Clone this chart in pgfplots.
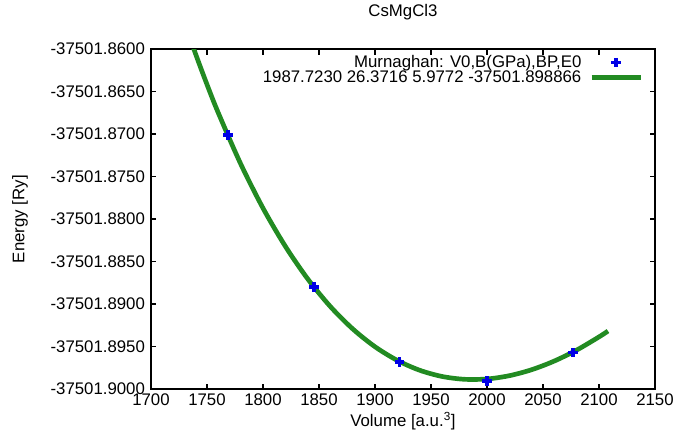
\documentclass[border=0pt]{standalone}
\usepackage{fontspec}
\setmainfont{Liberation Sans}
\usepackage{pgfplots}
\pgfplotsset{compat=1.18}
\definecolor{fitgreen}{RGB}{34,139,34}
\definecolor{ptblue}{RGB}{0,0,230}
% energies are stored as E + 37501.9 (Ry), pgfplots' float cannot hold 9 digits
\begin{document}
\begin{tikzpicture}
\begin{axis}[
    scale only axis,
    width=378pt, height=255pt,
    xmin=1700, xmax=2150,
    ymin=0, ymax=0.04,
    scaled y ticks=false,
    xtick={1700,1750,1800,1850,1900,1950,2000,2050,2100,2150},
    ytick={0,0.005,0.01,0.015,0.02,0.025,0.03,0.035,0.04},
    yticklabels={-37501.9000,-37501.8950,-37501.8900,-37501.8850,-37501.8800,-37501.8750,-37501.8700,-37501.8650,-37501.8600},
    /pgf/number format/assume math mode=true,
    /pgf/number format/1000 sep={},
    tick align=inside,
    major tick length=4pt,
    axis line style={line width=1.2pt},
    every tick/.style={black, line width=1.2pt},
    font=\fontsize{12.6}{14}\selectfont,
    yticklabel style={xshift=-1pt},
    title={CsMgCl3},
    title style={at={(axis description cs:0.5,1.085)}, anchor=center},
    xlabel={Volume [a.u.\textsuperscript{3}]},
    xlabel style={at={(axis description cs:0.5,-0.094)}, anchor=center},
    ylabel={Energy [Ry]},
    ylabel style={at={(axis description cs:-0.26,0.5)}, anchor=center},
    legend style={draw=none, fill=none, at={(axis description cs:0.976,0.99)},
        anchor=north east, row sep=-3.5pt, column sep=4pt, inner sep=0pt,
        font=\fontsize{12.6}{14}\selectfont},
    legend cell align=right,
    legend plot pos=right,
    legend image code/.code={
        \draw[mark repeat=2, mark phase=2, #1]
            plot coordinates {(0cm,0cm) (0.64cm,0cm) (1.28cm,0cm)};
    },
]

\addplot[only marks, mark=+, mark size=3.6pt, line width=2.6pt, color=ptblue] coordinates {
    (1768.75,0.0299) (1845.5,0.0120) (1922,0.0032) (2000,0.00095) (2076.8,0.0043)
};
\addlegendentry{Murnaghan: V0,B(GPa),BP,E0}

\addplot[fitgreen, line width=3.5pt, smooth, no marks] coordinates {
    (1730,0.043140) (1740,0.039376) (1750,0.035845) (1760,0.032531)
    (1780,0.026527) (1800,0.021299) (1820,0.016799) (1840,0.012961)
    (1860,0.009743) (1880,0.007103) (1900,0.004993) (1920,0.003378)
    (1940,0.002221) (1960,0.001492) (1980,0.001161) (2000,0.001200)
    (2020,0.001587) (2040,0.002295) (2060,0.003304) (2080,0.004594)
    (2100,0.006148) (2108,0.006839)
};
\addlegendentry{1987.7230 26.3716 5.9772 -37501.898866}

\end{axis}
\path (-113.25pt,-32.25pt) rectangle (396pt,287.25pt);
\end{tikzpicture}
\end{document}
